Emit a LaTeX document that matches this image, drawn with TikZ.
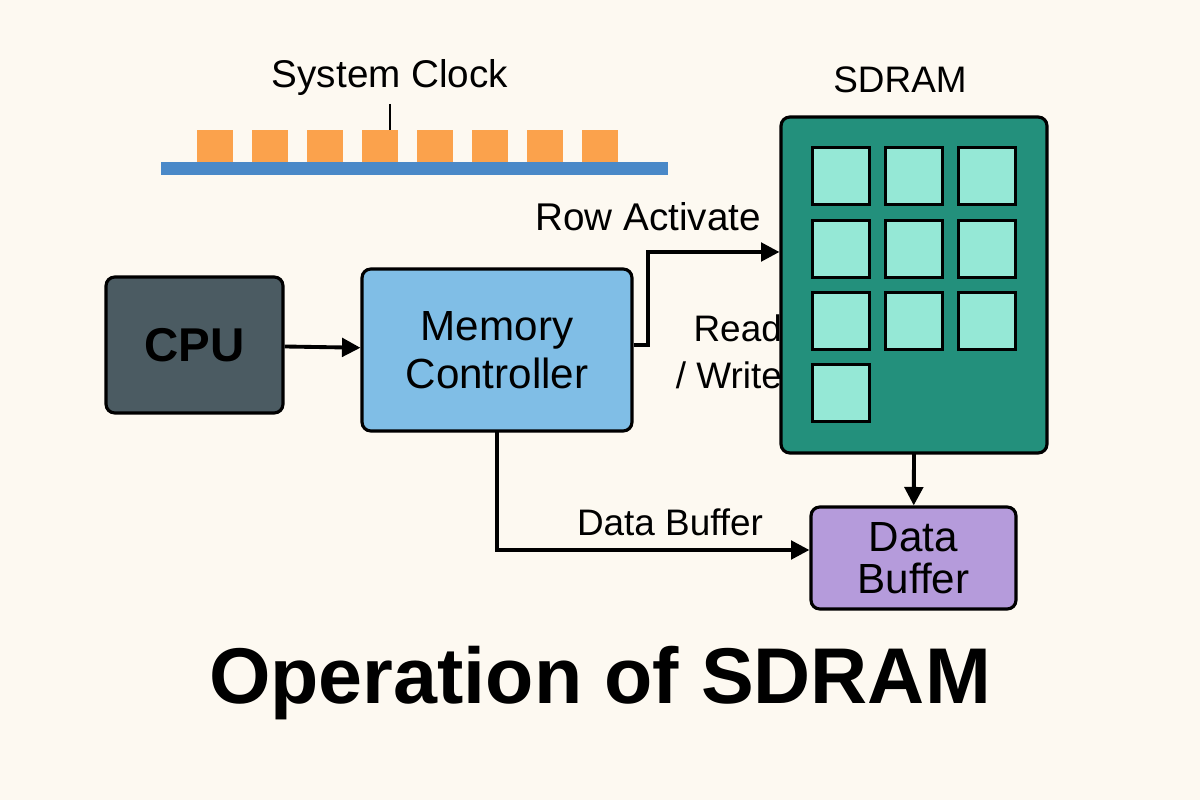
\documentclass[tikz,border=0pt]{standalone}
\usepackage{fontspec}
\setmainfont{Liberation Sans}
\usetikzlibrary{arrows.meta,positioning}

\definecolor{paper}{HTML}{FDF9F1}
\definecolor{clk}{HTML}{FBA24C}
\definecolor{bus}{HTML}{4A89C8}
\definecolor{cpufill}{HTML}{4B5B62}
\definecolor{mcfill}{HTML}{80BEE6}
\definecolor{ramfill}{HTML}{23907C}
\definecolor{cellfill}{HTML}{95E8D6}
\definecolor{buffill}{HTML}{B59BDB}

\begin{document}
\begin{tikzpicture}[x=0.02cm,y=-0.02cm,>={Triangle[length=10.5pt,width=10.5pt]},
  block/.style={draw=black,line width=1.8pt,rounded corners=5pt,inner sep=0pt,align=center},
  cell/.style={draw=black,line width=1.8pt,fill=cellfill,minimum size=1.14cm,inner sep=0pt},
  tick/.style={fill=clk,minimum width=0.72cm,minimum height=0.64cm,inner sep=0pt},
  wire/.style={line width=2.2pt},
  lbl/.style={font=\fontsize{22}{26}\selectfont}]
  \fill[paper] (0,0) rectangle (1200,800);

  % clock
  \node[lbl] (clock) at (390,78) {System Clock};
  \fill[bus] (161,162) rectangle (668,175);
  \foreach \i in {0,...,7}
    \node[tick] (t\i) at (215+55*\i,146) {};
  \coordinate (mark) at (390,104);
  \draw[line width=1.6pt] (mark) -- (390,130);

  % blocks
  \node[block,fill=cpufill,minimum width=3.54cm,minimum height=2.72cm,
    font=\fontsize{27}{30}\selectfont\bfseries] (cpu) at (194.5,345) {CPU};
  \node[block,fill=mcfill,minimum width=5.4cm,minimum height=3.24cm,
    font=\fontsize{24}{27}\selectfont] (mc) at (497,350) {Memory\\Controller};

  \node[lbl,font=\fontsize{21}{25}\selectfont,align=right,anchor=east] (rw) at (788,352) {Read\\[2pt]/ Write};
  \node[block,fill=ramfill,minimum width=5.32cm,minimum height=6.72cm] (ram) at (914,285) {};
  \node[lbl,font=\fontsize{21}{24}\selectfont] (ramlbl) at (900,80) {SDRAM};
  \foreach \r/\y in {0/176,1/249,2/321}
    \foreach \c/\x in {0/841,1/914,2/987}
      \node[cell] (c\r\c) at (\x,\y) {};
  \node[cell] (c30) at (841,393) {};

  \node[block,fill=buffill,minimum width=4.1cm,minimum height=2.04cm,
    font=\fontsize{24}{24}\selectfont] (buf) at (913.5,558) {Data\\Buffer};

  % connectors
  \draw[wire,->] (cpu) -- (mc);
  \coordinate (act) at (ram.west |- 0,252);
  \draw[wire,->] (mc.east |- 0,345) -| (648,252) -- (act);
  \node[lbl] (actlbl) at (648,217) {Row Activate};
  \draw[wire,->] (ram.south |- 0,453) -- (buf);
  \draw[wire,->] (mc.south |- 0,430) |- (buf.west |- 0,550);
  \node[lbl,font=\fontsize{21}{24}\selectfont] (buflbl) at (670,522) {Data Buffer};

  \node[font=\fontsize{45}{50}\selectfont\bfseries] (title) at (600,683) {Operation of SDRAM};
\end{tikzpicture}
\end{document}
